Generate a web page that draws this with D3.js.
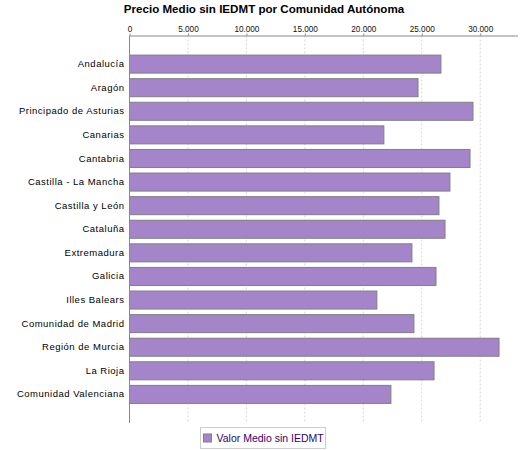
<!DOCTYPE html>
<html>
<head>
<meta charset="utf-8">
<script src="https://cdn.jsdelivr.net/npm/d3@7"></script>
<style>
    body { margin: 0; background: #fff; }
    svg { display: block; font-family: "Liberation Sans", Arial, sans-serif; }
</style>
</head>
<body>
<svg id="chart" width="525" height="450"></svg>
<script>
// Data
const regions = [
    "Andalucía", "Aragón", "Principado de Asturias", "Canarias", "Cantabria",
    "Castilla - La Mancha", "Castilla y León", "Cataluña", "Extremadura", "Galicia",
    "Illes Balears", "Comunidad de Madrid", "Región de Murcia", "La Rioja",
    "Comunidad Valenciana"
];
const avgPrice = [
    26640, 24680, 29380, 21760, 29130,
    27410, 26470, 26990, 24160, 26220,
    21160, 24330, 31610, 26050, 22360
];
const tickValues = [0, 5000, 10000, 15000, 20000, 25000, 30000];
const seriesName = "Valor Medio sin IEDMT";
const chartTitle = "Precio Medio sin IEDMT por Comunidad Autónoma";

const width = 525;
const height = 450;
const margin = { top: 35.5, right: 7.5, bottom: 27, left: 129.5 };

const esLocale = d3.formatLocale({ decimal: ",", thousands: ".", grouping: [3], currency: ["", "€"] });
const fmt = esLocale.format(",d");

const svg = d3.select("#chart");

const x = d3.scaleLinear()
    .domain([0, d3.max(avgPrice) * 1.05])
    .range([margin.left, width - margin.right]);

const y = d3.scaleBand()
    .domain(regions)
    .range([margin.top, height - margin.bottom])
    .paddingInner(0.236)
    .paddingOuter(0.83);

// Title
svg.append("text")
    .attr("x", 264)
    .attr("y", 13)
    .attr("text-anchor", "middle")
    .style("font-size", "11.6px")
    .style("font-weight", "bold")
    .attr("fill", "#000")
    .text(chartTitle);

// Gridlines
svg.append("g")
    .selectAll("line")
    .data(tickValues.slice(1))
    .enter()
    .append("line")
    .attr("x1", d => x(d))
    .attr("x2", d => x(d))
    .attr("y1", margin.top)
    .attr("y2", height - margin.bottom)
    .attr("stroke", "#d6d6d6")
    .attr("stroke-dasharray", "2,2");

// Bars
svg.append("g")
    .selectAll("rect")
    .data(avgPrice)
    .enter()
    .append("rect")
    .attr("x", x(0))
    .attr("y", (d, i) => y(regions[i]))
    .attr("width", d => x(d) - x(0))
    .attr("height", y.bandwidth())
    .attr("fill", "#a585c9")
    .attr("stroke", "#7f7f7f")
    .attr("stroke-width", 1);

// Value axis (top)
const xAxis = svg.append("g")
    .attr("transform", `translate(0, ${margin.top})`)
    .call(d3.axisTop(x).tickValues(tickValues).tickFormat(fmt).tickSizeInner(2).tickSizeOuter(0).tickPadding(2));

xAxis.select(".domain").attr("stroke", "#888");
xAxis.selectAll(".tick line").attr("stroke", "#888");
xAxis.selectAll(".tick text")
    .attr("fill", "#111")
    .style("font-size", "8.2px");

// Category axis (left)
const yAxis = svg.append("g")
    .attr("transform", `translate(${margin.left}, 0)`)
    .call(d3.axisLeft(y).tickSize(0).tickPadding(5));

yAxis.select(".domain")
    .attr("stroke", "#888")
    .attr("d", `M0,${margin.top}V${height - margin.bottom}`);
yAxis.selectAll(".tick text")
    .attr("fill", "#000")
    .style("font-size", "9.5px")
    .style("letter-spacing", "0.5px");

// Legend
const legend = svg.append("g").attr("transform", "translate(200.5, 427.5)");

legend.append("rect")
    .attr("width", 125)
    .attr("height", 21)
    .attr("fill", "#fff")
    .attr("stroke", "#cccccc");

legend.append("rect")
    .attr("x", 3)
    .attr("y", 6.5)
    .attr("width", 8)
    .attr("height", 8)
    .attr("fill", "#a585c9")
    .attr("stroke", "#7f7f7f");

legend.append("text")
    .attr("x", 16)
    .attr("y", 14.5)
    .attr("fill", "#33006b")
    .style("font-size", "10.5px")
    .text(seriesName);
</script>
</body>
</html>
